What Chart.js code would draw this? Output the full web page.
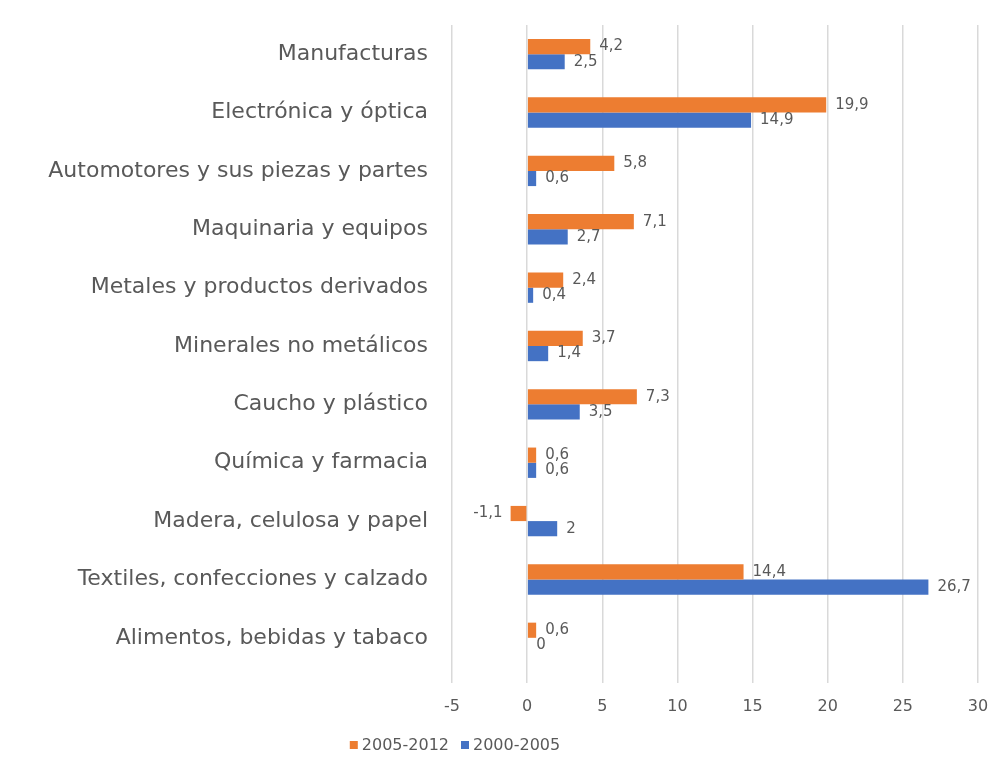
<!DOCTYPE html>
<html>
<head>
<meta charset="utf-8">
<title>Crecimiento por sector</title>
<script src="https://cdn.jsdelivr.net/npm/chart.js@4.4.1/dist/chart.umd.min.js"></script>
<style>
  html, body { margin: 0; padding: 0; background: #ffffff; }
  #wrap { width: 997px; height: 767px; }
</style>
</head>
<body>
<div id="wrap"><canvas id="myChart" width="997" height="767"></canvas></div>
<script>
(function () {
    'use strict'

    // Sectores y valores por periodo
    var sectores = [
        'Manufacturas',
        'Electrónica y óptica',
        'Automotores y sus piezas y partes',
        'Maquinaria y equipos',
        'Metales y productos derivados',
        'Minerales no metálicos',
        'Caucho y plástico',
        'Química y farmacia',
        'Madera, celulosa y papel',
        'Textiles, confecciones y calzado',
        'Alimentos, bebidas y tabaco',
    ]
    var periodos = ['2005-2012', '2000-2005']
    var valores2005_2012 = [4.2, 19.9, 5.8, 7.1, 2.4, 3.7, 7.3, 0.6, -1.1, 14.4, 0.6]
    var valores2000_2005 = [2.5, 14.9, 0.6, 2.7, 0.4, 1.4, 3.5, 0.6, 2, 26.7, 0]
    var ejeX = { min: -5, max: 30, paso: 5 }

    var naranja = '#ED7D31'
    var azul = '#4472C4'
    var gris = '#595959'
    var fuente = '"DejaVu Sans", sans-serif'

    function coma(v) {
        return String(v).replace('.', ',')
    }

    // Etiquetas de valor al final de cada barra
    var etiquetas = {
        id: 'etiquetas',
        afterDatasetsDraw: function (chart) {
            var ctx = chart.ctx
            ctx.save()
            ctx.font = '15px ' + fuente
            ctx.fillStyle = gris
            ctx.textBaseline = 'middle'
            chart.data.datasets.forEach(function (ds, i) {
                var meta = chart.getDatasetMeta(i)
                meta.data.forEach(function (bar, j) {
                    var v = ds.data[j]
                    if (v < 0) {
                        ctx.textAlign = 'right'
                        ctx.fillText(coma(v), bar.x - 8, bar.y)
                    } else {
                        ctx.textAlign = 'left'
                        ctx.fillText(coma(v), bar.x + 9, bar.y)
                    }
                })
            })
            ctx.restore()
        }
    }

    // Leyenda abajo, centrada bajo el bloque del gráfico
    var leyenda = {
        id: 'leyenda',
        afterDraw: function (chart) {
            var ctx = chart.ctx
            ctx.save()
            ctx.font = '16px ' + fuente
            ctx.textBaseline = 'middle'
            ctx.textAlign = 'left'
            var caja = 8, hueco = 4, sep = 12
            var anchos = periodos.map(function (p) {
                return caja + hueco + ctx.measureText(p).width
            })
            var total = anchos[0] + sep + anchos[1]
            var x = 455 - total / 2
            var y = 745
            chart.data.datasets.forEach(function (ds, i) {
                ctx.fillStyle = ds.backgroundColor
                ctx.fillRect(x, y - caja / 2, caja, caja)
                ctx.fillStyle = gris
                ctx.fillText(ds.label, x + caja + hueco, y + 1)
                x += anchos[i] + sep
            })
            ctx.restore()
        }
    }

    var ctx = document.getElementById('myChart')
    // eslint-disable-next-line no-unused-vars
    var myChart = new Chart(ctx, {
        type: 'bar',
        data: {
            labels: sectores,
            datasets: [{
                label: periodos[0],
                data: valores2005_2012,
                backgroundColor: naranja,
                borderWidth: 0,
            }, {
                label: periodos[1],
                data: valores2000_2005,
                backgroundColor: azul,
                borderWidth: 0,
            }]
        },
        plugins: [etiquetas, leyenda],
        options: {
            indexAxis: 'y',
            responsive: false,
            animation: false,
            categoryPercentage: 0.52,
            barPercentage: 1.0,
            layout: {
                padding: { top: 25, right: 19, bottom: 0, left: 0 }
            },
            plugins: {
                legend: { display: false },
                tooltip: { enabled: false }
            },
            scales: {
                x: {
                    min: ejeX.min,
                    max: ejeX.max,
                    afterFit: function (scale) {
                        scale.height = 100
                        scale.paddingLeft = 0
                        scale.paddingRight = 0
                    },
                    ticks: {
                        stepSize: ejeX.paso,
                        padding: 14,
                        color: gris,
                        font: { family: fuente, size: 16 }
                    },
                    grid: {
                        color: '#d9d9d9',
                        tickColor: '#d9d9d9',
                        lineWidth: 1.5,
                        tickLength: 16
                    },
                    border: { display: false }
                },
                y: {
                    afterFit: function (scale) {
                        scale.width = 452
                        scale.paddingTop = 0
                        scale.paddingBottom = 0
                    },
                    ticks: {
                        padding: 24,
                        color: gris,
                        font: { family: fuente, size: 22 }
                    },
                    grid: { display: false, drawTicks: false },
                    border: { display: false }
                }
            }
        }
    })
})()
</script>
</body>
</html>
